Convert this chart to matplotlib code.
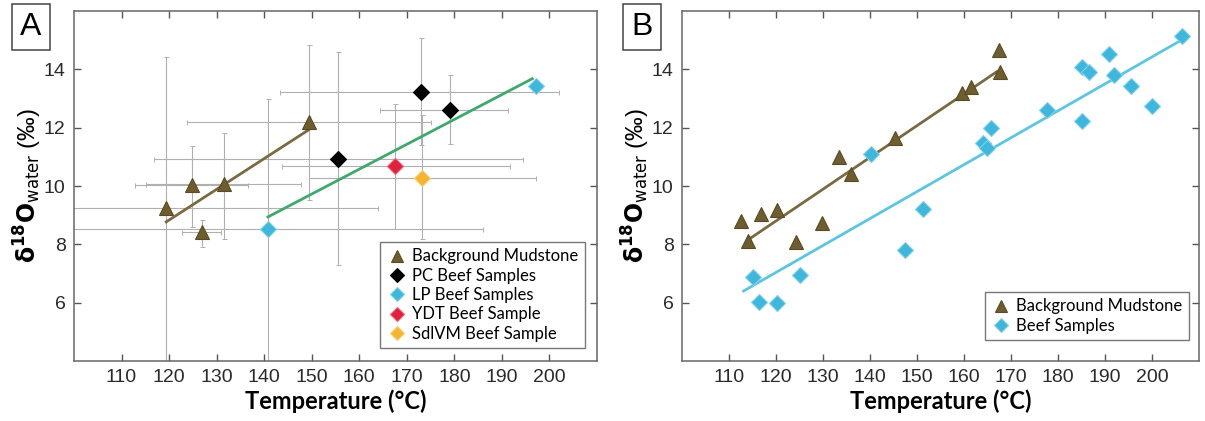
import numpy as np
import matplotlib
matplotlib.use("Agg")
import matplotlib.pyplot as plt

plt.rcParams['font.family'] = ['Liberation Sans', 'DejaVu Sans']
plt.rcParams['mathtext.fontset'] = 'dejavusans'

# ---- Panel A data (temperature, d18O water, with error bounds) ----
mud_a_t = [119.4, 124.9, 131.5, 126.9, 149.5]
mud_a_d = [9.23, 10.03, 10.08, 8.41, 12.20]
mud_a_t_lo = [90.0, 112.8, 115.2, 122.7, 123.7]
mud_a_t_hi = [163.9, 136.5, 147.8, 130.9, 175.1]
mud_a_d_lo = [3.5, 8.60, 8.20, 7.92, 9.51]
mud_a_d_hi = [14.42, 11.37, 11.83, 8.83, 14.82]

pc_t = [155.5, 172.9, 179.1]
pc_d = [10.91, 13.21, 12.60]
pc_t_lo = [116.8, 143.4, 164.4]
pc_t_hi = [194.4, 202.0, 191.2]
pc_d_lo = [7.29, 11.40, 11.43]
pc_d_hi = [14.59, 15.08, 13.79]

lp_t = [140.8, 197.1]
lp_d = [8.51, 13.42]
lp_t_lo = [90.0, 197.1]
lp_t_hi = [186.0, 197.1]
lp_d_lo = [3.5, 13.42]
lp_d_hi = [12.97, 13.42]

ydt_t = [167.6]
ydt_d = [10.69]
ydt_t_lo = [143.8]
ydt_t_hi = [191.6]
ydt_d_lo = [8.54]
ydt_d_hi = [12.82]

sdl_t = [173.1]
sdl_d = [10.29]
sdl_t_lo = [149.4]
sdl_t_hi = [197.2]
sdl_d_lo = [8.20]
sdl_d_hi = [12.42]

fit_mud_a_t = [119.4, 149.4]
fit_mud_a_d = [8.77, 11.93]
fit_beef_a_t = [140.8, 196.4]
fit_beef_a_d = [8.94, 13.68]

# ---- Panel B data ----
mud_b_t = [112.6, 114.0, 116.9, 120.3, 124.2, 129.8, 133.5, 135.9, 145.4,
           159.6, 161.4, 167.4, 167.7]
mud_b_d = [8.79, 8.13, 9.05, 9.19, 8.09, 8.74, 10.98, 10.41, 11.64,
           13.18, 13.41, 14.66, 13.92]
beef_b_t = [115.1, 116.3, 120.3, 125.0, 140.2, 147.4, 151.3, 164.0, 164.8,
            165.8, 177.7, 185.0, 185.2, 186.5, 190.9, 192.0, 195.5, 200.0, 206.3]
beef_b_d = [6.88, 6.02, 6.00, 6.95, 11.09, 7.82, 9.21, 11.47, 11.32,
            11.98, 12.59, 12.23, 14.09, 13.92, 14.51, 13.81, 13.43, 12.75, 15.14]
fit_mud_b_t = [114.2, 167.0]
fit_mud_b_d = [8.17, 13.92]
fit_beef_b_t = [113.1, 205.9]
fit_beef_b_d = [6.40, 14.97]

xticks = [110, 120, 130, 140, 150, 160, 170, 180, 190, 200]
yticks = [6, 8, 10, 12, 14]

BROWN = '#6e5d30'
BROWN_LINE = '#7a6a42'
GREEN = '#3fa86c'
CYAN = '#3fb6dc'
CYAN_LINE = '#5cc6e2'
RED = '#e0203c'
YELLOW = '#f4b531'
EBAR = '#b0b0b0'


def err(v, lo, hi):
    v = np.array(v)
    return np.vstack([v - np.array(lo), np.array(hi) - v])


def style_axes(ax):
    ax.set_xlim(100, 210)
    ax.set_ylim(4, 16)
    ax.set_xticks(xticks)
    ax.set_yticks(yticks)
    ax.tick_params(direction='in', length=5, width=1, top=True, right=True,
                   labelsize=14, pad=6, colors='#555555', labelcolor='#2a2a2a')
    for s in ax.spines.values():
        s.set_color('#666666')
        s.set_linewidth(1.1)
    ax.set_xlabel('Temperature (°C)', fontsize=17, fontweight='bold',
                  family=['Lato', 'DejaVu Sans'], labelpad=2)
    ax.set_ylabel(r'$\mathbf{\delta^{18}O}_{\mathrm{water}}$ (‰)', fontsize=17,
                  labelpad=0)


fig = plt.figure(figsize=(12.05, 4.21), dpi=100)
axA = fig.add_axes([74 / 1205, 60 / 421, 523 / 1205, 350 / 421])
axB = fig.add_axes([682 / 1205, 60 / 421, 517 / 1205, 350 / 421])

# ---- Panel A ----
ebkw = dict(fmt='none', ecolor=EBAR, elinewidth=0.8, capsize=1.8, capthick=0.7, zorder=1)
axA.errorbar(mud_a_t, mud_a_d, xerr=err(mud_a_t, mud_a_t_lo, mud_a_t_hi),
             yerr=err(mud_a_d, mud_a_d_lo, mud_a_d_hi), **ebkw)
axA.errorbar(pc_t, pc_d, xerr=err(pc_t, pc_t_lo, pc_t_hi),
             yerr=err(pc_d, pc_d_lo, pc_d_hi), **ebkw)
axA.errorbar(lp_t[:1], lp_d[:1], xerr=err(lp_t, lp_t_lo, lp_t_hi)[:, :1],
             yerr=err(lp_d, lp_d_lo, lp_d_hi)[:, :1], **ebkw)
axA.errorbar(ydt_t, ydt_d, xerr=err(ydt_t, ydt_t_lo, ydt_t_hi),
             yerr=err(ydt_d, ydt_d_lo, ydt_d_hi), **ebkw)
axA.errorbar(sdl_t, sdl_d, xerr=err(sdl_t, sdl_t_lo, sdl_t_hi),
             yerr=err(sdl_d, sdl_d_lo, sdl_d_hi), **ebkw)

axA.plot(fit_mud_a_t, fit_mud_a_d, color=BROWN_LINE, lw=2, zorder=2)
axA.plot(fit_beef_a_t, fit_beef_a_d, color=GREEN, lw=2, zorder=2)

mk = dict(linestyle='none', markeredgewidth=0.8, zorder=3)
axA.plot(mud_a_t, mud_a_d, '^', ms=10, color=BROWN, mec='#5a4b22',
         label='Background Mudstone', **mk)
axA.plot(pc_t, pc_d, 'D', ms=8, color='black', mec='black',
         label='PC Beef Samples', **mk)
axA.plot(lp_t, lp_d, 'D', ms=8, color=CYAN, mec='#7fd0ea',
         label='LP Beef Samples', **mk)
axA.plot(ydt_t, ydt_d, 'D', ms=8, color=RED, mec='#f06070',
         label='YDT Beef Sample', **mk)
axA.plot(sdl_t, sdl_d, 'D', ms=8, color=YELLOW, mec='#f8cf70',
         label='SdlVM Beef Sample', **mk)
style_axes(axA)
legA = axA.legend(loc='lower right', fancybox=False, edgecolor='#555555',
                  prop={'family': ['Lato', 'DejaVu Sans'], 'size': 12},
                  handletextpad=0.3, labelspacing=0.2, handlelength=1.2,
                  borderpad=0.4, markerscale=0.85, bbox_to_anchor=(0.993, 0.012))
legA.get_frame().set_linewidth(1.0)

# ---- Panel B ----
axB.plot(fit_mud_b_t, fit_mud_b_d, color=BROWN_LINE, lw=2, zorder=2)
axB.plot(fit_beef_b_t, fit_beef_b_d, color=CYAN_LINE, lw=2, zorder=2)
axB.plot(mud_b_t, mud_b_d, '^', ms=10, color=BROWN, mec='#5a4b22',
         label='Background Mudstone', **mk)
axB.plot(beef_b_t, beef_b_d, 'D', ms=8, color=CYAN, mec='#7fd0ea',
         label='Beef Samples', **mk)
style_axes(axB)
legB = axB.legend(loc='lower right', fancybox=False, edgecolor='#555555',
                  prop={'family': ['Lato', 'DejaVu Sans'], 'size': 12},
                  handletextpad=0.3, labelspacing=0.2, handlelength=1.2,
                  borderpad=0.4, markerscale=0.85, bbox_to_anchor=(0.997, 0.035))
legB.get_frame().set_linewidth(1.0)

# panel letters
boxkw = dict(boxstyle='square,pad=0.25', fc='white', ec='#444444', lw=1.1)
fig.text(31 / 1205, 1 - 27 / 421, 'A', fontsize=23, ha='center', va='center',
         bbox=boxkw)
fig.text(642 / 1205, 1 - 27 / 421, 'B', fontsize=23, ha='center', va='center',
         bbox=boxkw)

fig.savefig('out.png', dpi=100)
